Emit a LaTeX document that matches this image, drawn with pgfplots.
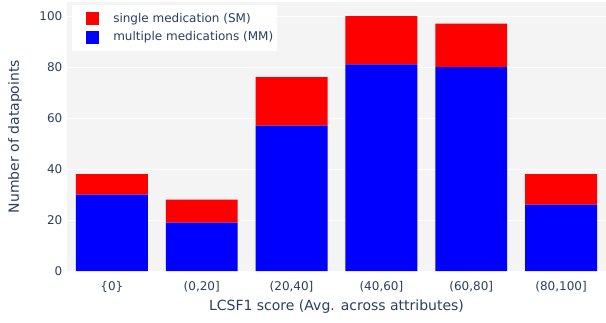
\documentclass[border=0pt]{standalone}
\usepackage{fontspec}
\setmainfont{DejaVu Sans}
\usepackage{pgfplots}
\pgfplotsset{compat=1.18}
\definecolor{plotbg}{HTML}{F4F4F4}
\definecolor{txt}{HTML}{2A3F5F}
\begin{document}
\begin{tikzpicture}
\begin{axis}[
    width=404.25pt, height=201.75pt, scale only axis,
    xmin=-0.5, xmax=5.5, ymin=0, ymax=105.5,
    ybar stacked, bar width=0.8,
    axis background/.style={fill=plotbg},
    axis line style={draw=none},
    major tick length=0pt,
    ymajorgrids, grid style={white, line width=0.75pt},
    ytick={0,20,...,100},
    xtick={0,...,5},
    xticklabels={\{0\}, {(0,20]}, {(20,40]}, {(40,60]}, {(60,80]}, {(80,100]}},
    tick label style={font=\fontsize{9}{10}\selectfont, text=txt},
    /pgf/number format/assume math mode=true,
    xticklabel style={yshift=-4.5pt},
    xlabel={LCSF1 score (Avg. across attributes)},
    ylabel={Number of datapoints},
    label style={font=\fontsize{10.5}{12}\selectfont, text=txt},
    xlabel style={at={(axis description cs:0.5,-0.134)}, anchor=center},
    ylabel style={at={(axis description cs:-0.0965,0.5)}, anchor=center},
    reverse legend,
    legend image code/.code={
        \path (-9.75pt,0pt) (18pt,0pt);
        \path[#1] (0pt,-4.75pt) rectangle (9.5pt,4.75pt);},
    legend cell align=left,
    legend style={at={(axis description cs:0.0093,0.989)}, anchor=north west,
        fill=white, draw=none, font=\fontsize{9}{10}\selectfont, text=txt,
        inner xsep=0.5pt, inner ysep=3.5pt, row sep=0.5pt,
        nodes={inner sep=2.5pt}},
]
\addplot[fill=blue, draw=none] coordinates {
    (0,30) (1,19) (2,57) (3,81) (4,80) (5,26)
};
\addplot[fill=red, draw=none] coordinates {
    (0,8) (1,9) (2,19) (3,19) (4,17) (5,12)
};
\legend{multiple medications (MM), single medication (SM)}
\end{axis}
\pgfresetboundingbox
\path (-50.25pt,-38.25pt) rectangle (404.25pt,203.25pt);
\end{tikzpicture}
\end{document}
